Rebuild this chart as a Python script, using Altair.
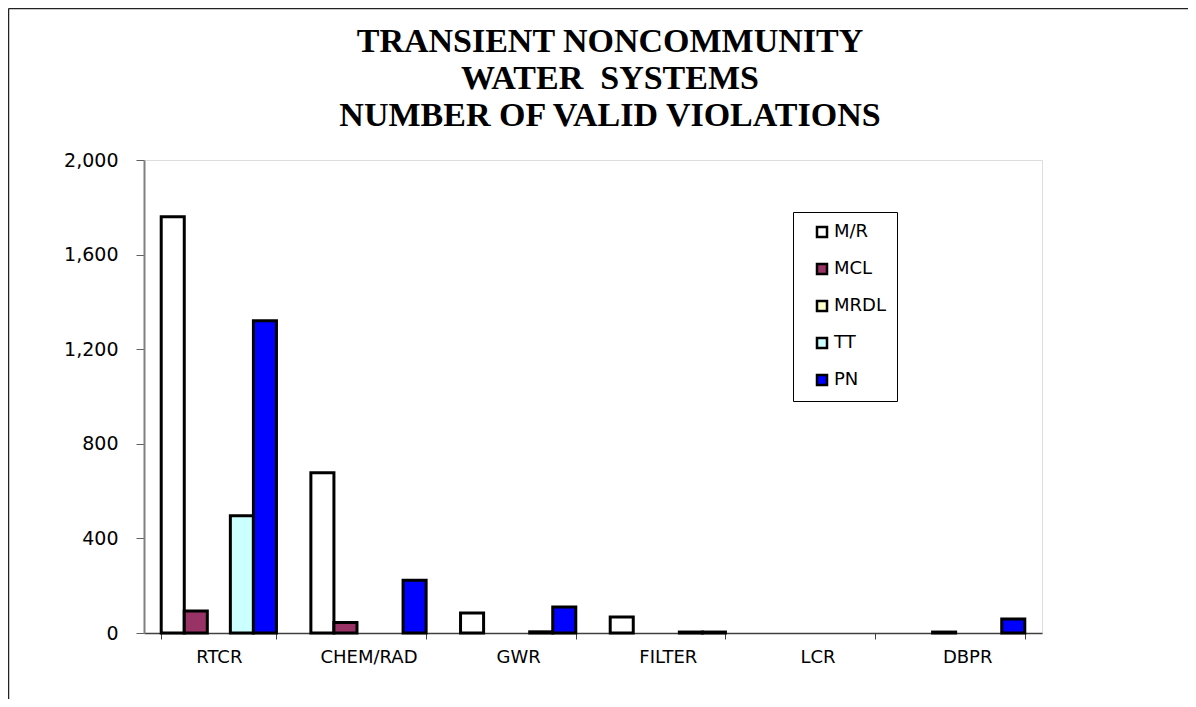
import altair as alt
import pandas as pd

categories = ["RTCR", "CHEM/RAD", "GWR", "FILTER", "LCR", "DBPR"]
series = ["M/R", "MCL", "MRDL", "TT", "PN"]
colors = ["#FFFFFF", "#993366", "#FFFFCC", "#CCFFFF", "#0000FF"]

mr = [1760, 678, 85, 68, 0, 0]
mcl = [93, 44, 0, 0, 0, 4]
mrdl = [0, 0, 0, 0, 0, 0]
tt = [496, 0, 5, 4, 0, 0]
pn = [1320, 223, 110, 4, 0, 59]

y_ticks = [0, 400, 800, 1200, 1600, 2000]

rows = []
for s, vals in zip(series, [mr, mcl, mrdl, tt, pn]):
    for c, v in zip(categories, vals):
        rows.append({"category": c, "series": s, "value": v})
df = pd.DataFrame(rows)

W, H = 898, 473
SANS = "DejaVu Sans"
NB = "\u00a0"

bars = alt.Chart(df).transform_filter(alt.datum.value > 0).mark_bar(
    stroke="black", strokeWidth=3
).encode(
    x=alt.X("category:N", sort=categories,
            scale=alt.Scale(domain=categories, paddingInner=0.23, paddingOuter=0.115),
            axis=alt.Axis(title=None, labelAngle=0, labelFont=SANS,
                          labelFontSize=18, labelColor="black", labelPadding=9,
                          tickBand="extent", tickSize=6, tickColor="#404040",
                          domainColor="#404040", domainWidth=1.5, grid=False)),
    xOffset=alt.XOffset("series:N", sort=series,
                        scale=alt.Scale(domain=series, paddingInner=0, paddingOuter=0)),
    y=alt.Y("value:Q", scale=alt.Scale(domain=[0, 2000], nice=False),
            axis=alt.Axis(title=None, values=y_ticks, format=",d",
                          labelFont=SANS, labelFontSize=19,
                          labelColor="black", labelPadding=18, tickSize=8,
                          tickColor="#606060", domainColor="#808080",
                          domainWidth=2, grid=False)),
    color=alt.Color("series:N", sort=series,
                    scale=alt.Scale(domain=series, range=colors),
                    legend=alt.Legend(title=None, orient="none", legendX=649, legendY=52,
                                      strokeColor="black", fillColor="white",
                                      padding=11, symbolType="square", symbolSize=100,
                                      symbolStrokeColor="black", symbolStrokeWidth=2.5,
                                      symbolOffset=9, labelFont=SANS,
                                      labelFontSize=18, labelColor="black",
                                      rowPadding=17, labelOffset=3)),
)

frame_top = alt.Chart(pd.DataFrame({"a": [0]})).mark_rule(
    color="#222222", strokeWidth=1.5
).encode(x=alt.value(-135.5), x2=alt.value(1060), y=alt.value(-151.5))

frame_left = alt.Chart(pd.DataFrame({"a": [0]})).mark_rule(
    color="#222222", strokeWidth=1.5
).encode(x=alt.value(-135.5), y=alt.value(-151.5), y2=alt.value(560))

chart = alt.layer(bars, frame_top, frame_left).properties(
    width=W, height=H,
    autosize=alt.AutoSizeParams(type="none"),
    padding={"left": 136, "top": 152, "right": 146, "bottom": 66},
    title=alt.TitleParams(
        text=["TRANSIENT NONCOMMUNITY", "WATER" + NB + NB + "SYSTEMS", "NUMBER OF VALID VIOLATIONS"],
        font="Liberation Serif", fontSize=34, fontWeight="bold", color="black",
        lineHeight=37, anchor="middle", dx=17, offset=0, dy=159, baseline="bottom",
    ),
).configure_view(stroke="#808080", strokeWidth=2).configure(background="white")

chart.save("out.html", embed_options={"renderer": "svg", "actions": False})
